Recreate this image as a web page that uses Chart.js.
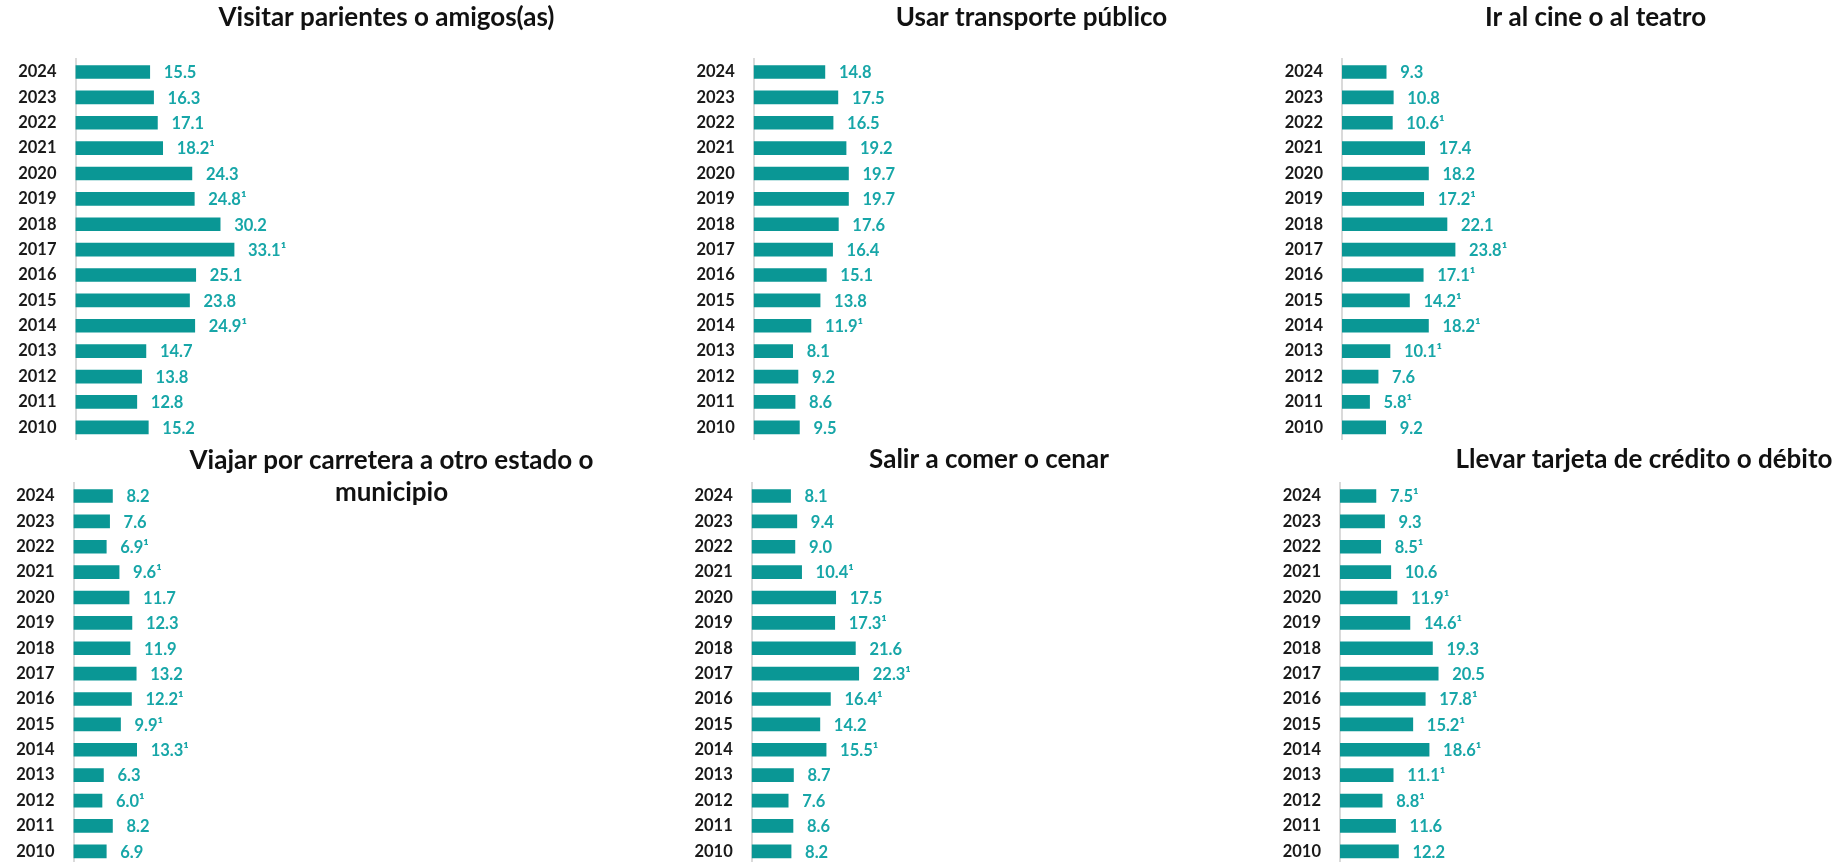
<!DOCTYPE html>
<html lang="es">
<head>
<meta charset="utf-8">
<title>Actividades que se dejaron de hacer por temor a la delincuencia</title>
<script src="https://cdn.jsdelivr.net/npm/chart.js@4.4.1/dist/chart.umd.min.js"></script>
<style>
  html, body {
    margin: 0;
    width: 1841px;
    height: 862px;
    overflow: hidden;
    background: #fff;
  }
  .panel {
    position: absolute;
  }
</style>
</head>
<body>
<div class="panel" id="p1"><canvas id="c1"></canvas></div>
<div class="panel" id="p2"><canvas id="c2"></canvas></div>
<div class="panel" id="p3"><canvas id="c3"></canvas></div>
<div class="panel" id="p4"><canvas id="c4"></canvas></div>
<div class="panel" id="p5"><canvas id="c5"></canvas></div>
<div class="panel" id="p6"><canvas id="c6"></canvas></div>
<script>
const years = ["2024", "2023", "2022", "2021", "2020", "2019", "2018", "2017",
  "2016", "2015", "2014", "2013", "2012", "2011", "2010"];

const visitar = [15.5, 16.3, 17.1, 18.2, 24.3, 24.8, 30.2, 33.1, 25.1, 23.8, 24.9, 14.7, 13.8, 12.8, 15.2];
const visitarNotas = ["2021", "2019", "2017", "2014"];

const transporte = [14.8, 17.5, 16.5, 19.2, 19.7, 19.7, 17.6, 16.4, 15.1, 13.8, 11.9, 8.1, 9.2, 8.6, 9.5];
const transporteNotas = ["2014"];

const cine = [9.3, 10.8, 10.6, 17.4, 18.2, 17.2, 22.1, 23.8, 17.1, 14.2, 18.2, 10.1, 7.6, 5.8, 9.2];
const cineNotas = ["2022", "2019", "2017", "2016", "2015", "2014", "2013", "2011"];

const carretera = [8.2, 7.6, 6.9, 9.6, 11.7, 12.3, 11.9, 13.2, 12.2, 9.9, 13.3, 6.3, 6.0, 8.2, 6.9];
const carreteraNotas = ["2022", "2021", "2016", "2015", "2014", "2012"];

const comer = [8.1, 9.4, 9.0, 10.4, 17.5, 17.3, 21.6, 22.3, 16.4, 14.2, 15.5, 8.7, 7.6, 8.6, 8.2];
const comerNotas = ["2021", "2019", "2017", "2016", "2014"];

const tarjeta = [7.5, 9.3, 8.5, 10.6, 11.9, 14.6, 19.3, 20.5, 17.8, 15.2, 18.6, 11.1, 8.8, 11.6, 12.2];
const tarjetaNotas = ["2024", "2022", "2020", "2019", "2016", "2015", "2014", "2013", "2012"];

const FONT = "Lato, 'Open Sans', 'DejaVu Sans', sans-serif";
const BAR = "#0a9795";
const LABEL = "#17a6a8";

// where each small chart sits (titles are centred on the canvas), how wide its
// year column is and how many px one percent point takes
const panels = [
  { canvas: "c1", box: "p1", title: "Visitar parientes o amigos(as)", values: visitar, notes: visitarNotas,
    left: 0, top: 0, width: 773, height: 440, yWidth: 75.5, pxPerUnit: 4.79, pad: { top: 1.4, bottom: 25.9 } },
  { canvas: "c2", box: "p2", title: "Usar transporte público", values: transporte, notes: transporteNotas,
    left: 680, top: 0, width: 703, height: 440, yWidth: 73.7, pxPerUnit: 4.81, pad: { top: 1.4, bottom: 25.9 } },
  { canvas: "c3", box: "p3", title: "Ir al cine o al teatro", values: cine, notes: cineNotas,
    left: 1270, top: 0, width: 651, height: 440, yWidth: 72, pxPerUnit: 4.75, pad: { top: 1.4, bottom: 25.9 } },
  { canvas: "c4", box: "p4", title: ["Viajar por carretera a otro estado o", "municipio"], values: carretera, notes: carreteraNotas,
    left: 0, top: 430, width: 783, height: 434, yWidth: 73.5, pxPerUnit: 4.75, pad: { top: 14.4, bottom: -25.1 } },
  { canvas: "c5", box: "p5", title: "Salir a comer o cenar", values: comer, notes: comerNotas,
    left: 680, top: 430, width: 618, height: 434, yWidth: 71.7, pxPerUnit: 4.8, pad: { top: 13.6, bottom: 7.7 } },
  { canvas: "c6", box: "p6", title: "Llevar tarjeta de crédito o débito", values: tarjeta, notes: tarjetaNotas,
    left: 1270, top: 430, width: 748, height: 434, yWidth: 70, pxPerUnit: 4.79, pad: { top: 13.6, bottom: 7.7 } },
];

// value at the end of every bar, with the footnote mark where it applies
const barValues = {
  id: "barValues",
  afterDatasetsDraw(chart, args, opts) {
    const { ctx } = chart;
    const data = chart.data.datasets[0].data;
    ctx.save();
    ctx.font = "bold 16.5px " + FONT;
    ctx.fillStyle = LABEL;
    ctx.textAlign = "left";
    ctx.textBaseline = "middle";
    chart.getDatasetMeta(0).data.forEach((bar, i) => {
      const mark = opts.notes.includes(chart.data.labels[i]) ? "¹" : "";
      ctx.fillText(data[i].toFixed(1) + mark, bar.x + 14, bar.y + 1);
    });
    ctx.restore();
  },
};

panels.forEach((p) => {
  const box = document.getElementById(p.box);
  box.style.left = p.left + "px";
  box.style.top = p.top + "px";
  box.style.width = p.width + "px";
  box.style.height = p.height + "px";

  new Chart(document.getElementById(p.canvas), {
    type: "bar",
    data: {
      labels: years,
      datasets: [
        {
          data: p.values,
          backgroundColor: BAR,
          barThickness: 13,
        },
      ],
    },
    options: {
      indexAxis: "y",
      responsive: true,
      maintainAspectRatio: false,
      animation: false,
      layout: { padding: 0 },
      scales: {
        x: {
          display: false,
          min: 0,
          max: (p.width - p.yWidth) / p.pxPerUnit,
        },
        y: {
          grid: { display: false, drawTicks: false },
          border: { display: true, color: "#dadada", width: 2 },
          ticks: {
            color: "#1a1a1a",
            padding: 19,
            font: { family: FONT, size: 16.5, weight: "bold" },
          },
          afterFit(scale) {
            // fixed year column; the tick padding must not eat into the rows
            scale.width = p.yWidth;
            scale.paddingTop = 0;
            scale.paddingBottom = 0;
          },
        },
      },
      plugins: {
        legend: { display: false },
        tooltip: { enabled: false },
        title: {
          display: true,
          text: p.title,
          color: "#111",
          padding: p.pad,
          font: { family: FONT, size: 26, weight: "bold", lineHeight: "32px" },
        },
        barValues: { notes: p.notes },
      },
    },
    plugins: [barValues],
  });
});
</script>
</body>
</html>
